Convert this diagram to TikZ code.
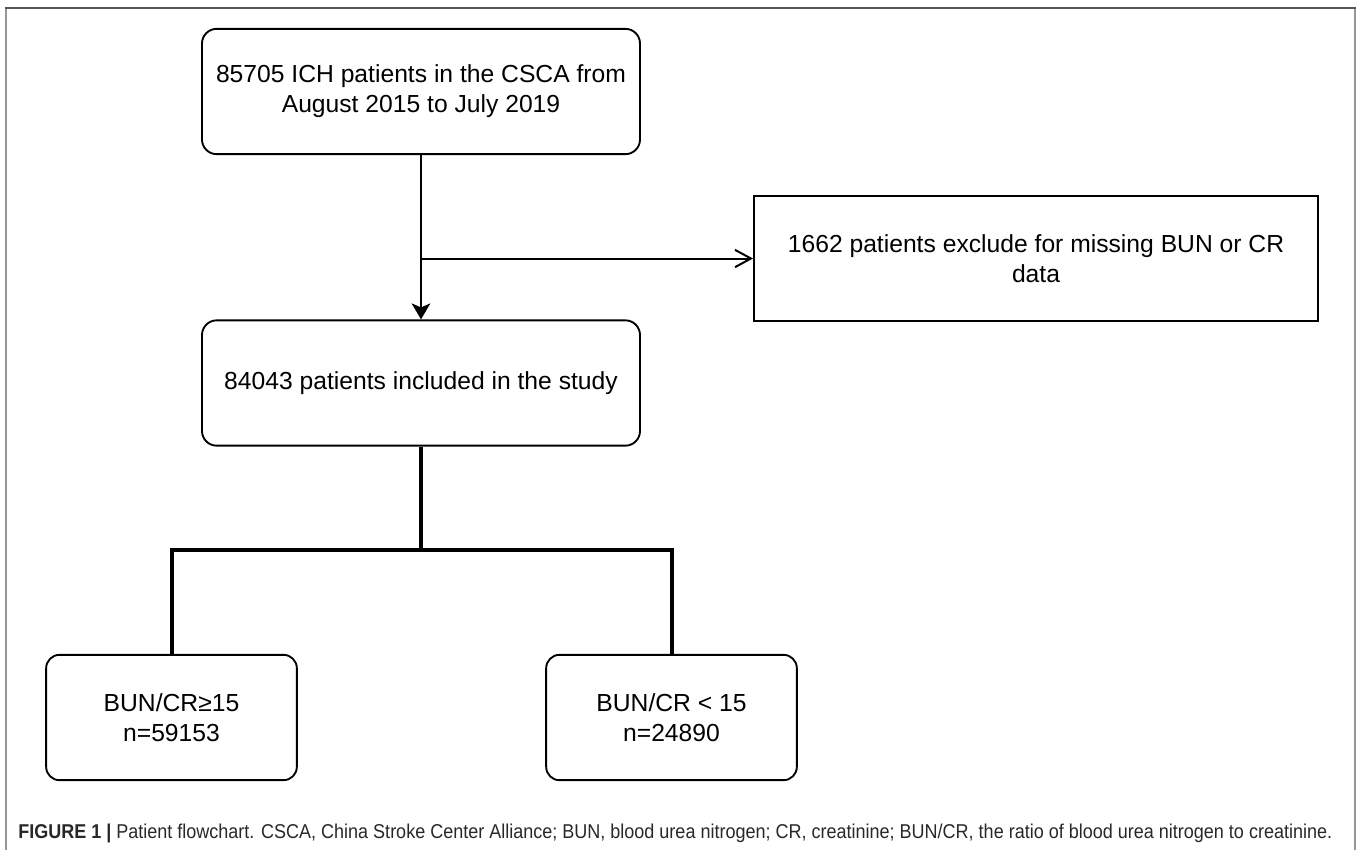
\documentclass[tikz,border=0pt]{standalone}
\usepackage{fontspec}
\usepackage{graphicx}
\setmainfont{Liberation Sans}
\usepackage{tikz}
\newcommand{\boxfont}{\fontsize{18.5pt}{22.5pt}\selectfont}
\newcommand{\capfont}{\fontsize{15pt}{18pt}\selectfont}
\newcommand{\widebox}{328.5pt}
\newcommand{\smallbox}{188pt}
\newcommand{\boxheight}{94pt}
\definecolor{frameTop}{RGB}{85,85,85}
\definecolor{frameSide}{RGB}{150,150,150}
\definecolor{capText}{RGB}{40,40,40}
\usetikzlibrary{arrows.meta,calc,positioning}
\tikzset{
  x=0.75pt,y=-0.75pt,
  font=\boxfont,
  rbox/.style={draw,shape=rectangle,rounded corners=11pt,line width=1.4pt,minimum width=\widebox,minimum height=\boxheight,inner sep=0,align=center},
  sbox/.style={rbox,sharp corners,minimum width=423pt},
  nbox/.style={rbox,rounded corners=10pt,minimum width=\smallbox},
  line/.style={draw,line width=1.5pt},
  tree/.style={draw,line width=3pt,line join=miter},
  frame/.style={line width=1.5pt},
}
\begin{document}
\begin{tikzpicture}
      \useasboundingbox (0,0) rectangle (1358,850);
      \draw [frame,frameSide] (6,850) -- (6,8);
      \draw [frame,frameSide] (1355,850) -- (1355,8);
      \draw [frame,frameTop] (5,8) -- (1356,8);
      \node (all) [rbox] at (421,91.5) {85705 ICH patients in the CSCA from\\August 2015 to July 2019};
      \node (incl) [rbox] at (421,383) {84043 patients included in the study};
      \node (excl) [sbox] at (1036,258.5) {1662 patients exclude for missing BUN or CR\\data};
      \node (hi) [nbox] at (171.5,717.5) {BUN/CR≥15\\n=59153};
      \node (lo) [nbox] at (671.5,717.5) {BUN/CR < 15\\n=24890};
      \coordinate (b) at (all.south |- excl.west);
      \coordinate (j) at ($(incl.south)+(0,103)$);
      \path [line,-{Stealth[length=12pt,width=14pt,inset=3pt]}] (all) -- (incl);
      \path [line,-{Straight Barb[length=12pt,width=13pt]}] (b) -- (excl);
      \path [tree] (incl) -- (j);
      \path [tree] (hi) |- (j) -| (lo);
      \node (cap) [anchor=base west,inner sep=0,text=capText] at (18,838) {\resizebox{985.5pt}{\height}{\capfont\textbf{FIGURE 1 |} Patient flowchart. CSCA, China Stroke Center Alliance; BUN, blood urea nitrogen; CR, creatinine; BUN/CR, the ratio of blood urea nitrogen to creatinine.}};
\end{tikzpicture}
\end{document}
